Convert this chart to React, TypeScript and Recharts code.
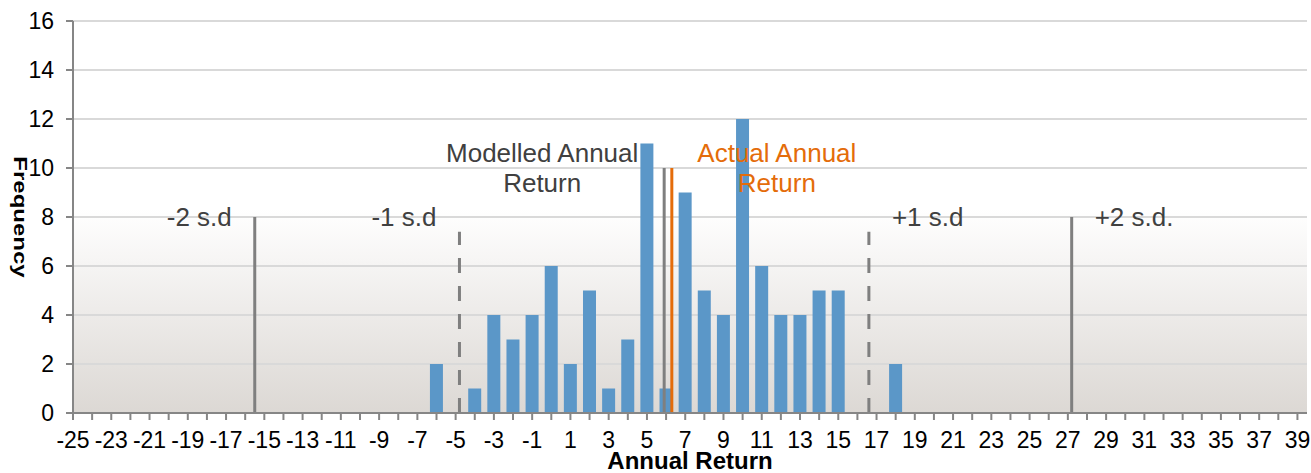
import {
  ComposedChart,
  Bar,
  Scatter,
  XAxis,
  YAxis,
  CartesianGrid,
  ReferenceLine,
} from "recharts";

// histogram bins (annual return, %) and how many years fell in each
const returnBins = [-6, -5, -4, -3, -2, -1, 0, 1, 2, 3, 4, 5, 6, 7, 8, 9, 10, 11, 12, 13, 14, 15, 16, 17, 18];
const frequencies = [2, 0, 1, 4, 3, 4, 6, 2, 5, 1, 3, 11, 1, 9, 5, 4, 12, 6, 4, 4, 5, 5, 0, 0, 2];

const xTicks = Array.from({ length: 65 }, (_, i) => i - 25);
const yTicks = [0, 2, 4, 6, 8, 10, 12, 14, 16];
const xDomain: [number, number] = [-25, 39.5];

// standard deviation markers
const sdValues = [-15.5, -4.8, 16.6, 27.2];
const sdTops = [8, 7.4, 7.4, 8];
const sdLabels = ["-2 s.d", "-1 s.d", "+1 s.d", "+2 s.d."];
const sdDashed = [false, true, true, false];

const modelledReturn = 5.9;
const actualReturn = 6.3;
const returnLineTop = 10;

const GREY = "#7f7f7f";
const TEXT_GREY = "#404040";
const ORANGE = "#e46c0a";
const BLUE = "#5b97c8";
const FONT = "Liberation Sans, Arial, sans-serif";

const data = returnBins.map((r, i) => ({ ret: r, freq: frequencies[i] }));

const annotations = [
  ...sdValues.map((x, i) => ({
    ret: x,
    freq: 8,
    lines: [sdLabels[i]],
    anchor: i < 2 ? "end" : "start",
    dx: i < 2 ? -23 : 23,
    color: TEXT_GREY,
  })),
  { ret: modelledReturn, freq: 10.6, lines: ["Modelled Annual", "Return"], anchor: "middle", dx: -122, color: TEXT_GREY },
  { ret: actualReturn, freq: 10.6, lines: ["Actual Annual", "Return"], anchor: "middle", dx: 105, color: ORANGE },
];

const AnnotationText = (props: any) => {
  const { cx, cy, payload } = props;
  if (cx == null || cy == null) return null;
  return (
    <text
      x={cx + payload.dx}
      y={cy + 9}
      textAnchor={payload.anchor}
      fill={payload.color}
      fontSize={26}
      fontFamily={FONT}
    >
      {payload.lines.map((l: string, i: number) => (
        <tspan key={i} x={cx + payload.dx} dy={i === 0 ? 0 : 30}>
          {l}
        </tspan>
      ))}
    </text>
  );
};

const tickStyle = { fontSize: 23, fill: "#000", fontFamily: FONT };

export default function App() {
  return (
    <div style={{ position: "absolute", left: 0, top: 0 }}>
      <ComposedChart
        width={1311}
        height={473}
        data={data}
        margin={{ top: 21, right: 4, left: 0, bottom: 0 }}
      >
        <defs>
          <linearGradient id="plotBg" x1="0" y1="0" x2="0" y2="1">
            <stop offset="0%" stopColor="#ffffff" />
            <stop offset="48%" stopColor="#ffffff" />
            <stop offset="100%" stopColor="#dcd8d4" />
          </linearGradient>
        </defs>
        <CartesianGrid
          vertical={false}
          stroke="#d9d9d9"
          strokeWidth={2}
          fill="url(#plotBg)"
          fillOpacity={1}
        />
        <XAxis
          dataKey="ret"
          type="number"
          domain={xDomain}
          ticks={xTicks}
          interval={0}
          allowDataOverflow
          height={60}
          tickSize={7}
          tickMargin={12}
          stroke="#868686"
          strokeWidth={2}
          tick={tickStyle}
          tickFormatter={(v: number) => (Math.abs(v) % 2 === 1 ? String(v) : "")}
          label={{
            content: (p: any) => {
              const vb = p.viewBox;
              return (
                <text
                  x={vb.x + vb.width / 2}
                  y={vb.y + 56}
                  textAnchor="middle"
                  fontSize={24}
                  fontWeight="bold"
                  fill="#000"
                  fontFamily={FONT}
                >
                  Annual Return
                </text>
              );
            },
          }}
        />
        <XAxis
          xAxisId="ann"
          dataKey="ret"
          type="number"
          domain={xDomain}
          allowDataOverflow
          hide
        />
        <YAxis
          dataKey="freq"
          type="number"
          domain={[0, 16]}
          ticks={yTicks}
          interval={0}
          width={73}
          tickSize={7}
          tickMargin={12}
          stroke="#868686"
          strokeWidth={2}
          tick={tickStyle}
          label={{
            content: (p: any) => {
              const vb = p.viewBox;
              return (
                <text
                  transform={`translate(14, ${vb.y + vb.height / 2}) rotate(90) scale(1, 0.75)`}
                  textAnchor="middle"
                  fontSize={24}
                  fontWeight="bold"
                  fill="#000"
                  fontFamily={FONT}
                >
                  Frequency
                </text>
              );
            },
          }}
        />
        <Bar dataKey="freq" fill={BLUE} barSize={13} isAnimationActive={false} />
        {sdValues.map((x, i) => (
          <ReferenceLine
            key={i}
            segment={[
              { x, y: 0 },
              { x, y: sdTops[i] },
            ]}
            stroke={GREY}
            strokeWidth={3}
            strokeDasharray={sdDashed[i] ? "15 13" : undefined}
          />
        ))}
        <ReferenceLine
          segment={[
            { x: modelledReturn, y: 0 },
            { x: modelledReturn, y: returnLineTop },
          ]}
          stroke={GREY}
          strokeWidth={3}
        />
        <ReferenceLine
          segment={[
            { x: actualReturn, y: 0 },
            { x: actualReturn, y: returnLineTop },
          ]}
          stroke={ORANGE}
          strokeWidth={3}
        />
        <Scatter
          xAxisId="ann"
          data={annotations}
          dataKey="freq"
          shape={AnnotationText}
          isAnimationActive={false}
        />
      </ComposedChart>
    </div>
  );
}
